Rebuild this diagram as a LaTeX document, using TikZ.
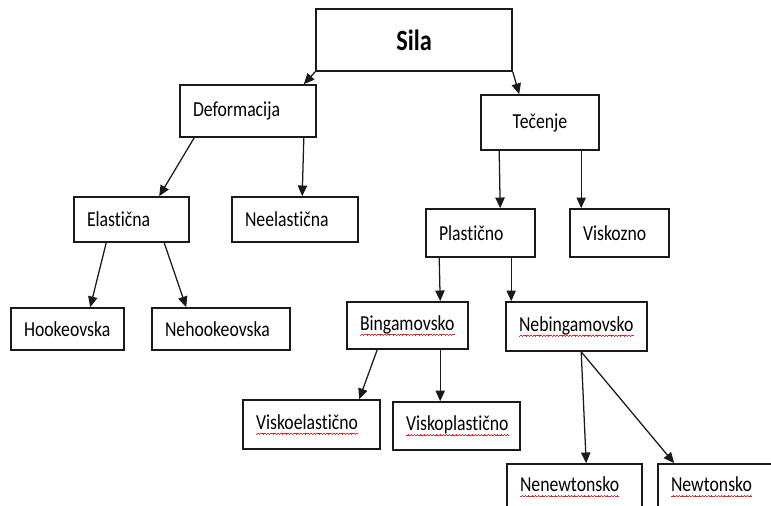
\documentclass[tikz,border=0pt]{standalone}
\usepackage{fontspec}
\setmainfont{Carlito}[FakeStretch=0.83,Ligatures=NoCommon]
\usepackage{tikz}
\usetikzlibrary{arrows.meta,calc}
\definecolor{edge}{HTML}{1A1A1A}
\definecolor{spell}{HTML}{E8202A}
\newcommand\wavecell{\textcolor{spell}{\rule{0.6pt}{0.55pt}\raisebox{0.5pt}{\rule{0.6pt}{0.55pt}}%
  \raisebox{1pt}{\rule{0.6pt}{0.55pt}}\raisebox{0.5pt}{\rule{0.6pt}{0.55pt}}}}
\newcommand\spellmark[1]{\setbox0\hbox{#1}%
  \rlap{\raisebox{-4pt}{\hbox to \wd0{\xleaders\hbox{\wavecell}\hfil}}}\box0}
\hyphenpenalty=10000
\tikzset{
  box/.style={draw=edge, fill=white, line width=1.2pt, inner xsep=9.75pt, inner ysep=0pt,
              align=left, font=\fontsize{16}{19}\selectfont, text=black},
  midbox/.style={box, align=center},
  arrow/.style={-{Triangle[length=8pt,width=7pt]}, line width=0.95pt, draw=edge}
}
\begin{document}
\begin{tikzpicture}[x=0.75pt,y=-0.75pt]
  \useasboundingbox (0,0) rectangle (771,506);
  \clip (0,0) rectangle (771,506);
  % boxes, top to bottom
  \node[midbox,minimum width=147pt,minimum height=46.5pt,font=\fontsize{22}{26}\selectfont\bfseries] (sila) at (414,40) {Sila};
  \node[box,text width=82.5pt,minimum height=39pt] (deform) at (248,111) {Deformacija};
  \node[midbox,minimum width=88.5pt,minimum height=41.25pt] (tecenje) at (540,122.5) {Tečenje};
  \node[box,text width=66.75pt,minimum height=33.75pt] (elast) at (131.5,219.5) {Elastična};
  \node[box,text width=75pt,minimum height=33.75pt] (neelast) at (295,219.5) {Neelastična};
  \node[box,text width=65.25pt,minimum height=31.5pt] (hooke) at (67.5,329) {Hookeovska};
  \node[box,text width=84pt,minimum height=31.5pt] (nehooke) at (221,329) {Nehookeovska};
  \node[box,text width=62.25pt,minimum height=36pt] (plast) at (480.5,233) {Plastično};
  \node[box,text width=54.75pt,minimum height=36pt] (viskoz) at (619.5,233) {Viskozno};
  \node[box,text width=71.25pt,minimum height=35.25pt] (bingam) at (407.5,325.5) {\spellmark{Bingamovsko}};
  \node[box,text width=86.25pt,minimum height=36.75pt] (nebingam) at (576.5,326.5) {\spellmark{Nebingamovsko}};
  \node[box,text width=83.25pt,minimum height=36.75pt] (viskoel) at (311.5,424.5) {\spellmark{Viskoelastično}};
  \node[box,text width=75.75pt,minimum height=36pt] (viskopl) at (456.5,426) {\spellmark{Viskoplastično}};
  \node[box,text width=81.75pt,minimum height=34.5pt] (nenewt) at (574.5,487) {\spellmark{Nenewtonsko}};
  \node[box,text width=69pt,minimum height=34.5pt] (newt) at (717,487) {\spellmark{Newtonsko}};
  % connectors
  \draw[arrow] (sila.south west) -- ($(deform.north east)+(-13,0)$);
  \draw[arrow] (sila.south east) -- ($(tecenje.north west)+(39,0)$);
  \draw[arrow] ($(deform.south west)+(15,0)$) -- ($(elast.north west)+(86,0)$);
  \draw[arrow] ($(deform.south east)+(-13,0)$) -- ($(neelast.north west)+(71,0)$);
  \draw[arrow] ($(elast.south west)+(33,0)$) -- ($(hooke.north west)+(80,0)$);
  \draw[arrow] ($(elast.south west)+(91,0)$) -- ($(nehooke.north west)+(35,0)$);
  \draw[arrow] ($(tecenje.south west)+(19,0)$) -- ($(plast.north west)+(75,0)$);
  \draw[arrow] ($(tecenje.south west)+(101,0)$) -- ($(viskoz.north west)+(12,0)$);
  \draw[arrow] ($(plast.south west)+(14,0)$) -- ($(bingam.north west)+(94,0)$);
  \draw[arrow] ($(plast.south west)+(86,0)$) -- ($(nebingam.north west)+(6,0)$);
  \draw[arrow] ($(bingam.south west)+(31,0)$) -- ($(viskoel.north west)+(117,0)$);
  \draw[arrow] ($(bingam.south west)+(94,0)$) -- ($(viskopl.north west)+(48,0)$);
  \draw[arrow] ($(nebingam.south west)+(76,0)$) -- ($(nenewt.north west)+(80,0)$);
  \draw[arrow] ($(nebingam.south west)+(76,0)$) -- ($(newt.north west)+(17,0)$);
\end{tikzpicture}
\end{document}
